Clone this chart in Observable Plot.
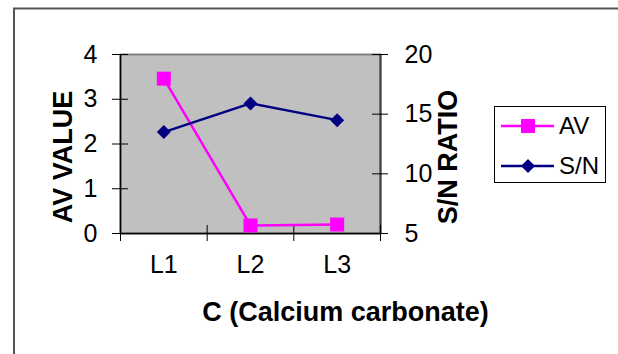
<!DOCTYPE html>
<html><head><meta charset="utf-8">
<script src="https://cdn.jsdelivr.net/npm/d3@7"></script>
<script src="https://cdn.jsdelivr.net/npm/@observablehq/plot@0.6"></script>
<style>body{margin:0;background:#fff;} svg{display:block}</style>
</head><body><div id="chart"></div>
<script>
const categories = ["L1", "L2", "L3"];
const avValues = [3.46, 0.18, 0.2];
const snValues = [13.5, 15.9, 14.5];
const avTicks = [0, 1, 2, 3, 4];
const snTicks = [5, 10, 15, 20];
const seriesNames = ["AV", "S/N"];
const seriesColors = ["#ff00ff", "#000080"];
const xTitle = "C (Calcium carbonate)";
const yLeftTitle = "AV VALUE";
const yRightTitle = "S/N RATIO";

const avMax = d3.max(avTicks), snMin = d3.min(snTicks), snMax = d3.max(snTicks);
const snToAv = v => (v - snMin) * avMax / (snMax - snMin);
const avToSn = v => v * (snMax - snMin) / avMax + snMin;

const rows = categories.map((c, i) => ({i, c, av: avValues[i], sn: snToAv(snValues[i])}));
const bounds = d3.range(categories.length + 1).map(i => i - 0.5);

const W = 618, H = 354, mL = 120, mR = 238, mT = 54, mB = 121;
const tick = 8;
const pxX = (W - mL - mR) / categories.length;
const pxY = (H - mT - mB) / avMax;
const xLo = -0.5, xHi = categories.length - 0.5;
const font = "'Liberation Sans', Arial, sans-serif";
const tickFont = 25;
const titleFont = 27;

const plot = Plot.plot({
  width: W, height: H,
  marginLeft: mL, marginRight: mR, marginTop: mT, marginBottom: mB,
  style: {fontFamily: font, fontSize: "24px", color: "#000", background: "#fff"},
  x: {type: "linear", domain: [xLo, xHi]},
  y: {domain: [0, avMax]},
  marks: [
    Plot.frame({fill: "#c0c0c0", stroke: "#808080", strokeWidth: 2}),
    Plot.ruleX([xHi], {stroke: "#404040", strokeWidth: 2}),
    Plot.ruleX([xLo], {stroke: "#000", strokeWidth: 1.5}),
    Plot.ruleY([0], {stroke: "#000", strokeWidth: 1.5}),
    Plot.ruleX(bounds, {x: d => d, y1: () => -tick / pxY, y2: () => tick / pxY, stroke: "#000", strokeWidth: 1}),
    Plot.ruleY(avTicks, {y: d => d, x1: () => xLo - tick / pxX, x2: () => xLo + tick / pxX, stroke: "#000", strokeWidth: 1}),
    Plot.ruleY(snTicks.map(snToAv), {y: d => d, x1: () => xHi - tick / pxX, x2: () => xHi + tick / pxX, stroke: "#000", strokeWidth: 1}),
    Plot.axisY({ticks: avTicks, tickSize: 0, tickPadding: 23, anchor: "left", label: null, fontSize: tickFont, tickFormat: d => String(d)}),
    Plot.axisY({ticks: snTicks.map(snToAv), tickSize: 0, tickPadding: 24, anchor: "right", label: null, fontSize: tickFont, tickFormat: d => String(Math.round(avToSn(d)))}),
    Plot.axisX({ticks: categories.map((c, i) => i), tickSize: 0, tickPadding: 22, anchor: "bottom", label: null, fontSize: tickFont, tickFormat: i => categories[i]}),
    Plot.line(rows, {x: "i", y: "av", stroke: seriesColors[0], strokeWidth: 2.5}),
    Plot.dot(rows, {x: "i", y: "av", symbol: "square", r: 7.9, fill: seriesColors[0], stroke: "none"}),
    Plot.line(rows, {x: "i", y: "sn", stroke: seriesColors[1], strokeWidth: 2.5}),
    Plot.dot(rows, {x: "i", y: "sn", symbol: "diamond2", r: 6.3, fill: seriesColors[1], stroke: "none"}),
    Plot.text([yLeftTitle], {text: d => d, frameAnchor: "left", textAnchor: "middle", rotate: -90, dx: -57, dy: 13, fontSize: titleFont, fontWeight: "bold", lineAnchor: "middle"}),
    Plot.text([yRightTitle], {text: d => d, frameAnchor: "right", textAnchor: "middle", rotate: -90, dx: 68, dy: 13, fontSize: titleFont, fontWeight: "bold", lineAnchor: "middle"}),
    Plot.text([xTitle], {text: d => d, frameAnchor: "bottom", textAnchor: "middle", dx: 95, dy: 79, fontSize: titleFont, fontWeight: "bold", lineAnchor: "middle"})
  ]
});
document.getElementById("chart").appendChild(plot);

// outer chart border and legend
const svg = d3.select(plot);
svg.append("rect").attr("x", 14).attr("y", 8.5).attr("width", 700).attr("height", 400)
  .attr("fill", "none").attr("stroke", "#555").attr("stroke-width", 2);
const lg = svg.append("g").attr("transform", "translate(494,106)");
lg.append("rect").attr("x", 0.5).attr("y", 0.5).attr("width", 111).attr("height", 76)
  .attr("fill", "#fff").attr("stroke", "#000").attr("stroke-width", 1);
seriesNames.forEach((name, k) => {
  const y = 20 + k * 40;
  lg.append("line").attr("x1", 7).attr("x2", 60).attr("y1", y).attr("y2", y)
    .attr("stroke", seriesColors[k]).attr("stroke-width", 2.5);
  if (k === 0) {
    lg.append("rect").attr("x", 34 - 7).attr("y", y - 7).attr("width", 14).attr("height", 14).attr("fill", seriesColors[k]);
  } else {
    lg.append("path").attr("d", `M34,${y - 7}L41,${y}L34,${y + 7}L27,${y}Z`).attr("fill", seriesColors[k]);
  }
  lg.append("text").attr("x", 65).attr("y", y).attr("dy", "0.35em").attr("text-anchor", "start")
    .attr("font-family", font).attr("font-size", 24).attr("fill", "#000").text(name);
});
</script>
</body></html>
